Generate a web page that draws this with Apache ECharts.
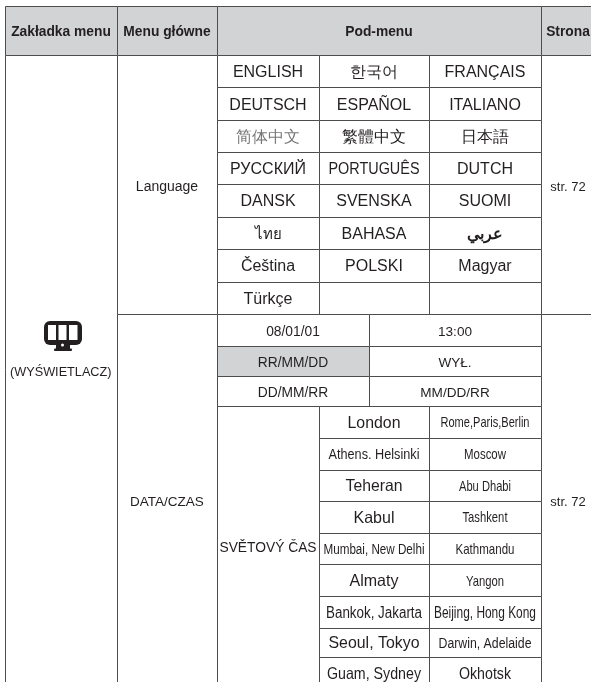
<!DOCTYPE html>
<html>
<head>
<meta charset="utf-8">
<style>html,body{margin:0;padding:0;background:#fff}#main{width:591px;height:682px}</style>
<script src="https://cdn.jsdelivr.net/npm/echarts@6/dist/echarts.min.js"></script>
</head>
<body>
<div id="main"></div>
<script>
// table content
const headers = ['Zakładka menu', 'Menu główne', 'Pod-menu', 'Strona'];
const tabLabel = '(WYŚWIETLACZ)';
const mainMenus = ['Language', 'DATA/CZAS'];
const pageRefs = ['str. 72', 'str. 72'];
const languages = [
	['ENGLISH', '한국어', 'FRANÇAIS'],
	['DEUTSCH', 'ESPAÑOL', 'ITALIANO'],
	['简体中文', '繁體中文', '日本語'],
	['РУССКИЙ', 'PORTUGUÊS', 'DUTCH'],
	['DANSK', 'SVENSKA', 'SUOMI'],
	['ไทย', 'BAHASA', 'عربي'],
	['Čeština', 'POLSKI', 'Magyar'],
	['Türkçe', '', '']
];
const dateRows = [
	['08/01/01', '13:00'],
	['RR/MM/DD', 'WYŁ.'],
	['DD/MM/RR', 'MM/DD/RR']
];
const worldTimeLabel = 'SVĚTOVÝ ČAS';
const citiesLeft = ['London', 'Athens. Helsinki', 'Teheran', 'Kabul', 'Mumbai, New Delhi', 'Almaty', 'Bankok, Jakarta', 'Seoul, Tokyo', 'Guam, Sydney'];
const citiesRight = ['Rome,Paris,Berlin', 'Moscow', 'Abu Dhabi', 'Tashkent', 'Kathmandu', 'Yangon', 'Beijing, Hong Kong', 'Darwin, Adelaide', 'Okhotsk'];

// layout: column widths and row heights in px
const colSizes = [112, 100, 102, 50, 60, 112, 54];
const rowSizes = [49, 32.5, 32.5, 32, 32, 33, 32, 33, 32.5, 31.5, 30, 30.7, 31.3, 32, 31.5, 31.5, 31.5, 32, 31.5, 29, 32];
// city labels are condensed in the source, so they carry a font size and a target width
const leftFont = [16.5, 14, 16.5, 16.5, 15.5, 16.5, 16, 16.5, 16.5];
const leftWidth = [53, 91, 57, 41, 101, 49, 96, 91, 94];
const rightFont = [15, 15, 15, 15, 15, 15, 16, 15.5, 16.5];
const rightWidth = [89, 42, 52, 45, 59, 38, 102, 93, 52];

const FONT = '"Liberation Sans", Arial, sans-serif';
const HEAD_BG = '#d1d3d4';
const LINE = '#4d4d4d';
const INK = '#231f20';

// grid cells, the matrix draws fill and borders only
const cell = (c0, c1, r0, r1, fill) => ({
	coord: [c0 === c1 ? c0 : [c0, c1], r0 === r1 ? r0 : [r0, r1]],
	mergeCells: c0 !== c1 || r0 !== r1,
	value: '',
	itemStyle: { color: fill || '#fff', borderColor: LINE, borderWidth: 1 }
});

const bodyCells = [
	cell(0, 0, 0, 0, HEAD_BG),
	cell(1, 1, 0, 0, HEAD_BG),
	cell(2, 5, 0, 0, HEAD_BG),
	cell(6, 6, 0, 0, HEAD_BG),
	cell(0, 0, 1, 20),
	cell(1, 1, 1, 8),
	cell(6, 6, 1, 8),
	cell(1, 1, 9, 20),
	cell(6, 6, 9, 20),
	cell(2, 2, 12, 20)
];
languages.forEach((row, i) => {
	bodyCells.push(cell(2, 2, i + 1, i + 1), cell(3, 4, i + 1, i + 1), cell(5, 5, i + 1, i + 1));
});
dateRows.forEach((row, i) => {
	bodyCells.push(cell(2, 3, i + 9, i + 9, i === 1 ? HEAD_BG : null), cell(4, 5, i + 9, i + 9));
});
citiesLeft.forEach((name, i) => {
	bodyCells.push(cell(3, 4, i + 12, i + 12), cell(5, 5, i + 12, i + 12));
});

// every text: column, row, text, font size, y shift, optional style
// width squeezes the text to a target width, coord gives the centre of a merged cell
const labels = [];
const addLabel = (c, r, text, size, dy, extra) => {
	if (text) labels.push(Object.assign({ c: 'c' + c, r: 'r' + r, text, size, dy }, extra));
};
[0, 1, 2, 6].forEach((c, i) => addLabel(c, 0, headers[i], 13.8, 1.5, { bold: true }));
addLabel(1, 1, mainMenus[0], 14, 2.5);
addLabel(6, 1, pageRefs[0], 13, 2.5);
addLabel(1, 9, mainMenus[1], 13.5, 1);
addLabel(6, 9, pageRefs[1], 13, 1);
addLabel(2, 12, worldTimeLabel, 13.8, 0);
languages.forEach((row, i) => {
	const r = i + 1;
	addLabel(2, r, row[0], row[0] === 'ไทย' ? 15 : 16, 1.5, i === 2 ? { color: '#777' } : null);
	addLabel(3, r, row[1], 16, 1.5, row[1] === 'PORTUGUÊS' ? { width: 91 } : null);
	addLabel(5, r, row[2], row[2] === 'عربي' ? 15.5 : 16, 1.5, row[2] === 'عربي' ? { bold: true } : null);
});
dateRows.forEach((row, i) => {
	addLabel(2, i + 9, row[0], 13.8, 2);
	addLabel(4, i + 9, row[1], 13.6, 2);
});
citiesLeft.forEach((name, i) => addLabel(3, i + 12, name, leftFont[i], 1, { width: leftWidth[i] }));
citiesRight.forEach((name, i) => addLabel(5, i + 12, name, rightFont[i], 1, { width: rightWidth[i] }));

const measure = document.createElement('canvas').getContext('2d');

function renderLabel(params, api) {
	const item = labels[params.dataIndex];
	const pt = api.coord([item.c, item.r]);
	let scaleX = 1;
	if (item.width) {
		measure.font = item.size + 'px "Liberation Sans"';
		scaleX = item.width / measure.measureText(item.text).width;
	}
	return {
		type: 'text',
		x: pt[0],
		y: pt[1] + item.dy,
		scaleX: scaleX,
		style: {
			text: item.text,
			fontSize: item.size,
			fontFamily: FONT,
			fontWeight: item.bold ? 'bold' : 'normal',
			fill: item.color || INK,
			align: 'center',
			verticalAlign: 'middle'
		}
	};
}

const option = {
	backgroundColor: '#fff',
	animation: false,
	matrix: {
		left: 5,
		top: 6,
		width: colSizes.reduce((a, b) => a + b, 0),
		height: rowSizes.reduce((a, b) => a + b, 0),
		x: { show: false, data: colSizes.map((s, i) => ({ value: 'c' + i, size: s })) },
		y: { show: false, data: rowSizes.map((s, i) => ({ value: 'r' + i, size: s })) },
		body: {
			data: bodyCells,
			itemStyle: { color: '#fff', borderColor: LINE, borderWidth: 1 }
		},
		backgroundStyle: { color: '#fff', borderWidth: 0 }
	},
	series: [{
		type: 'custom',
		coordinateSystem: 'matrix',
		silent: true,
		data: labels.map(d => [d.c, d.r]),
		renderItem: renderLabel
	}],
	graphic: [
		{
			type: 'text',
			left: 10,
			top: 366,
			style: { text: tabLabel, fontSize: 12.7, fontFamily: FONT, fill: INK }
		},
		{
			// monitor icon
			type: 'group',
			left: 44,
			top: 321,
			children: [
				{ type: 'rect', shape: { x: 0, y: 0, width: 38, height: 24, r: 6 }, style: { fill: INK } },
				{ type: 'rect', shape: { x: 4, y: 4, width: 8, height: 15 }, style: { fill: '#fff' } },
				{ type: 'rect', shape: { x: 14.5, y: 4, width: 8, height: 15 }, style: { fill: '#fff' } },
				{ type: 'rect', shape: { x: 25, y: 4, width: 8.5, height: 15 }, style: { fill: '#fff' } },
				{ type: 'rect', shape: { x: 12, y: 24, width: 14, height: 5 }, style: { fill: INK } },
				{ type: 'rect', shape: { x: 10, y: 27.5, width: 18, height: 2.5, r: 1 }, style: { fill: INK } },
				{ type: 'circle', shape: { cx: 18.5, cy: 24, r: 1.5 }, style: { fill: '#fff' } }
			]
		}
	]
};

const myChart = echarts.init(document.getElementById('main'), null, { renderer: 'canvas' });
myChart.setOption(option);
</script>
</body>
</html>
